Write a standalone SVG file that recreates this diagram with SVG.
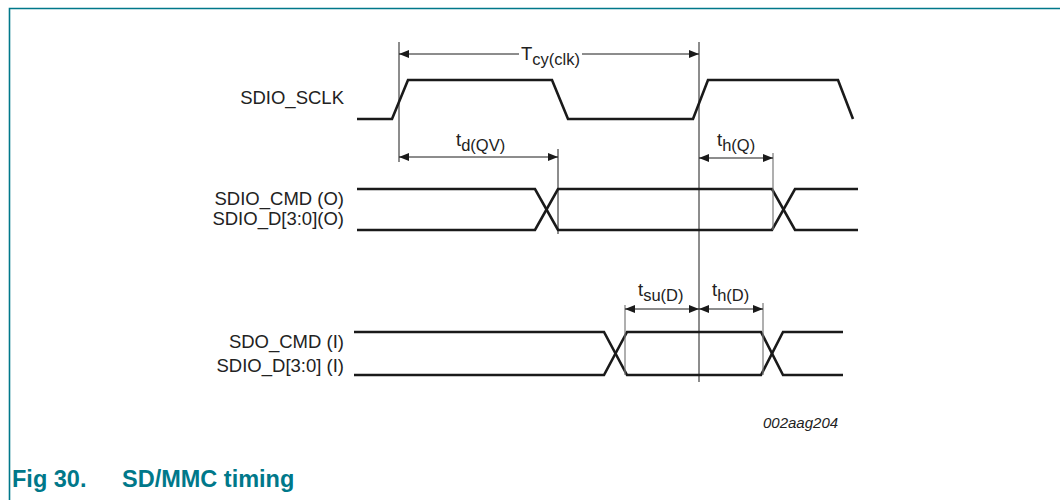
<svg xmlns="http://www.w3.org/2000/svg" width="1060" height="500" viewBox="0 0 1060 500">
<style>
.sig{fill:none;stroke:#1a1a1a;stroke-width:2.6;stroke-linejoin:miter}
.ref{fill:none;stroke:#1a1a1a;stroke-width:1}
.refg{fill:none;stroke:#7a7a7a;stroke-width:1.2}
.dim{fill:none;stroke:#1a1a1a;stroke-width:1;marker-start:url(#ah);marker-end:url(#ah)}
.lbl{font-family:"Liberation Sans",Arial,sans-serif;font-size:18.5px;fill:#222}
.sub{font-size:16.5px}
.cap{font-family:"Liberation Sans",Arial,sans-serif;font-size:23.5px;font-weight:bold;fill:#00788a}
.code{font-family:"Liberation Sans",Arial,sans-serif;font-size:15px;font-style:italic;fill:#222}
</style>
<defs>
<marker id="ah" viewBox="0 0 10 8" refX="10" refY="4" markerWidth="10" markerHeight="8" markerUnits="userSpaceOnUse" orient="auto-start-reverse">
<path d="M0,0 L10,4 L0,8 Z" fill="#1a1a1a"/>
</marker>
</defs>
<rect width="1060" height="500" fill="#ffffff"/>
<path d="M9.5,500 V8.5 H1060" fill="none" stroke="#00788a" stroke-width="1.6"/>

<g id="sclk">
<text class="lbl" x="344" y="104" text-anchor="end">SDIO_SCLK</text>
<path class="sig" d="M357,119 H392 L408,80 H552 L568,119 H693 L708,80 H838 L853,119"/>
</g>

<g id="cmd_out">
<text class="lbl" x="344" y="205" text-anchor="end">SDIO_CMD (O)</text>
<text class="lbl" x="344" y="225" text-anchor="end">SDIO_D[3:0](O)</text>
<path class="sig" d="M357,189 H535 L558,230 H772 L795,189 H858"/>
<path class="sig" d="M357,230 H535 L558,189 H772 L795,230 H858"/>
</g>

<g id="cmd_in">
<text class="lbl" x="344" y="348" text-anchor="end">SDO_CMD (I)</text>
<text class="lbl" x="344" y="372" text-anchor="end">SDIO_D[3:0] (I)</text>
<path class="sig" d="M354,332 H604 L627,375 H761 L783,332 H843"/>
<path class="sig" d="M354,375 H604 L627,332 H761 L783,375 H843"/>
</g>

<g id="connectors">
<line class="ref" x1="399" y1="42" x2="399" y2="162"/>
<line class="ref" x1="699" y1="42" x2="699" y2="382"/>
<line class="ref" x1="558" y1="149" x2="558" y2="234"/>
<line class="refg" x1="773" y1="153" x2="773" y2="230"/>
<line class="refg" x1="625" y1="305" x2="625" y2="375"/>
<line class="refg" x1="763" y1="303" x2="763" y2="375"/>
<path class="ref" d="M399,54 H519" style="marker-start:url(#ah)"/>
<path class="ref" d="M582,54 H699" style="marker-end:url(#ah)"/>
<line class="dim" x1="399" y1="157" x2="558" y2="157"/>
<line class="dim" x1="699" y1="158" x2="773" y2="158"/>
<line class="dim" x1="625" y1="309" x2="699" y2="309"/>
<line class="dim" x1="699" y1="309" x2="763" y2="309"/>
</g>

<g id="labels">
<text class="lbl" x="521" y="60">T<tspan class="sub" dy="5">cy(clk)</tspan></text>
<text class="lbl" x="456" y="146">t<tspan class="sub" dy="5">d(QV)</tspan></text>
<text class="lbl" x="717" y="146">t<tspan class="sub" dy="5">h(Q)</tspan></text>
<text class="lbl" x="638" y="296">t<tspan class="sub" dy="5">su(D)</tspan></text>
<text class="lbl" x="712" y="296">t<tspan class="sub" dy="5">h(D)</tspan></text>
<text class="code" x="763" y="428">002aag204</text>
</g>

<g id="caption">
<text class="cap" x="12" y="487">Fig 30.</text>
<text class="cap" x="122" y="487">SD/MMC timing</text>
</g>
</svg>
